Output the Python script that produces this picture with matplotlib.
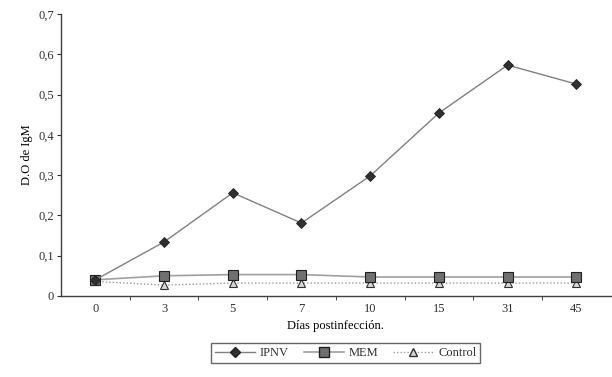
import matplotlib
matplotlib.use("Agg")
import matplotlib.pyplot as plt
from matplotlib.lines import Line2D

days = ["0", "3", "5", "7", "10", "15", "31", "45"]
ipnv = [0.040, 0.134, 0.256, 0.181, 0.298, 0.454, 0.573, 0.526]
mem = [0.040, 0.050, 0.053, 0.053, 0.047, 0.047, 0.047, 0.047]
control = [0.036, 0.027, 0.032, 0.032, 0.032, 0.032, 0.032, 0.032]
yticks = [0, 0.1, 0.2, 0.3, 0.4, 0.5, 0.6, 0.7]
ytick_labels = ["0", "0,1", "0,2", "0,3", "0,4", "0,5", "0,6", "0,7"]

plt.rcParams['font.family'] = ['Liberation Serif', 'DejaVu Serif']
plt.rcParams['text.color'] = '#303030'
plt.rcParams['xtick.color'] = '#303030'
plt.rcParams['ytick.color'] = '#303030'

fig = plt.figure(figsize=(6.12, 3.77), dpi=100)
ax = fig.add_axes([0.0997, 0.215, 0.898, 0.748])

x = list(range(len(days)))
ax.plot(x, control, color="#9a9a9a", lw=1.0, ls=(0, (1, 1.5)), marker="^",
        ms=6, mfc="#d8d8d8", mec="#303030", mew=0.8, label="Control", zorder=2)
ax.plot(x, mem, color="#a0a0a0", lw=1.2, marker="s", ms=7, mfc="#707070",
        mec="#202020", mew=0.8, label="MEM", zorder=3)
ax.plot(x, ipnv, color="#808080", lw=1.0, marker="D", ms=5.5, mfc="#303030",
        mec="#202020", mew=0.6, label="IPNV", zorder=4)

ax.set_xlim(-0.5, len(days) - 0.5)
ax.set_ylim(0, 0.7)
ax.set_yticks(yticks)
ax.set_yticklabels(ytick_labels, fontsize=9)
ax.set_xticks(x)
ax.set_xticklabels(days, fontsize=9)
ax.set_xticks([i + 0.5 for i in range(len(days) - 1)], minor=True)
ax.tick_params(axis="x", which="major", length=0, pad=5)
ax.tick_params(axis="x", which="minor", length=3, direction="out")
ax.tick_params(axis="y", length=3, direction="out", pad=2)
for s in ["top", "right"]:
    ax.spines[s].set_visible(False)
for s in ["left", "bottom"]:
    ax.spines[s].set_color("#404040")
    ax.spines[s].set_linewidth(1.0)

ax.set_ylabel("D.O de IgM", fontsize=9, labelpad=4)
ax.set_xlabel("Días postinfección.", fontsize=9, labelpad=4)

handles = [
    Line2D([], [], color="#808080", lw=1.0, marker="D", ms=5.5, mfc="#303030", mec="#202020"),
    Line2D([], [], color="#a0a0a0", lw=1.2, marker="s", ms=7, mfc="#707070", mec="#202020"),
    Line2D([], [], color="#9a9a9a", lw=1.0, ls=(0, (1, 1.5)), marker="^", ms=6, mfc="#d8d8d8", mec="#303030"),
]
leg = fig.legend(handles, ["IPNV", "MEM", "Control"], loc="center",
                 bbox_to_anchor=(0.565, 0.063), ncol=3, fontsize=9,
                 frameon=True, fancybox=False, edgecolor="#404040",
                 handlelength=3.2, columnspacing=1.2, handletextpad=0.4,
                 borderpad=0.3)
leg.get_frame().set_linewidth(1.0)

fig.savefig("out.png", dpi=100)
